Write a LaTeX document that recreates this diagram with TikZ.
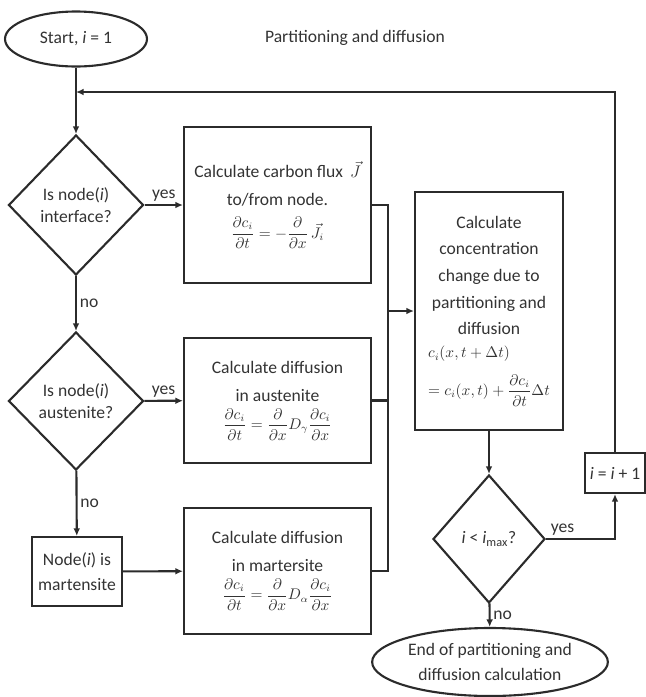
\documentclass[tikz,border=0pt]{standalone}
\usepackage{fontspec}
\setmainfont{Carlito}
\usepackage{amsmath}
\usetikzlibrary{arrows.meta,shapes.geometric}
\definecolor{pdline}{HTML}{2B2B2B}
\definecolor{pdtext}{HTML}{333333}
\tikzstyle{pdbox}=[draw=pdline,line width=1.5pt,text=pdtext,align=center,inner sep=2pt,
  font=\fontsize{12.5}{20}\selectfont]
\tikzstyle{pddec}=[diamond,draw=pdline,line width=1.5pt,text=pdtext,aspect=1,inner sep=0pt,
  align=center,font=\fontsize{12.5}{16}\selectfont]
\tikzstyle{pdterm}=[ellipse,draw=pdline,line width=1.5pt,text=pdtext,inner sep=1pt,
  align=center,font=\fontsize{12.5}{20}\selectfont]
\tikzstyle{pdarrow}=[-{Latex[length=1.9mm,width=1.7mm]},draw=pdline,line width=1.5pt]
\tikzstyle{pdwire}=[draw=pdline,line width=1.5pt]
\tikzstyle{pdlabel}=[text=pdtext,font=\fontsize{12.5}{14}\selectfont,inner sep=2pt]
\newcommand\pdmath{\fontsize{10.5}{13}\selectfont}

\begin{document}
\begin{tikzpicture}
    \useasboundingbox (0,0) rectangle (16.15,-17.425);
    % ---- start and title ----
    \node[pdterm,minimum width=3.55cm,minimum height=1.375cm] (start) at (1.9,-0.975) {Start, \textit{i} = 1};
    \node[pdlabel] (title) at (8.875,-0.95) {Partitioning and diffusion};
    \coordinate (join) at (1.9,-2.3);

    % ---- decisions on the left ----
    \node[pddec,minimum width=3.375cm,minimum height=3.5cm] (d1) at (1.9,-5.125) {Is node(\textit{i})\\interface?};
    \node[pddec,minimum width=3.375cm,minimum height=3.45cm] (d2) at (1.9,-10.025) {Is node(\textit{i})\\austenite?};
    \node[pdbox,minimum width=2.25cm,minimum height=1.725cm,font=\fontsize{12.5}{18}\selectfont] (mart) at (1.925,-14.2875) {Node(\textit{i}) is\\martensite};

    % ---- calculation boxes ----
    \node[pdbox,minimum width=4.675cm,minimum height=3.9cm] (flux) at (6.9375,-5.125)
      {Calculate carbon flux\, $\vec{J}$\\to/from node.\\[3pt]
       {\pdmath$\displaystyle\frac{\partial c_i}{\partial t}=-\frac{\partial}{\partial x}\,\vec{J}_i$}};
    \node[pdbox,minimum width=4.675cm,minimum height=3.125cm] (aus) at (6.9375,-10.0125)
      {Calculate diffusion\\in austenite\\
       {\pdmath$\displaystyle\frac{\partial c_i}{\partial t}=\frac{\partial}{\partial x}D_\gamma\frac{\partial c_i}{\partial x}$}};
    \node[pdbox,minimum width=4.675cm,minimum height=3.15cm] (mar) at (6.9375,-14.275)
      {Calculate diffusion\\in martersite\\
       {\pdmath$\displaystyle\frac{\partial c_i}{\partial t}=\frac{\partial}{\partial x}D_\alpha\frac{\partial c_i}{\partial x}$}};
    \node[pdbox,minimum width=3.7cm,minimum height=5.95cm,font=\fontsize{12.5}{19}\selectfont] (conc) at (12.225,-7.775)
      {Calculate\\concentration\\change due to\\partitioning and\\diffusion\\[6pt]
       {\pdmath\begin{tabular}{@{}l@{}}$c_i(x,t+\Delta t)$\\[8pt]
        $=c_i(x,t)+\dfrac{\partial c_i}{\partial t}\Delta t$\end{tabular}}};

    % ---- loop test and end ----
    \node[pddec,minimum width=2.8cm,minimum height=3.2cm] (d3) at (12.225,-13.475) {\textit{i} < \textit{i}$_{\max}$?};
    \node[pdbox,minimum width=1.5cm,minimum height=1.0cm,inner sep=1pt] (inc) at (15.375,-11.825) {\textit{i} = \textit{i} + 1};
    \node[pdterm,minimum width=5.85cm,minimum height=1.7cm,font=\fontsize{12.5}{18}\selectfont] (end) at (12.25,-16.55)
      {End of partitioning and\\diffusion calculation};

    % ---- collector between calculation boxes ----
    \coordinate (bus1) at (9.7,-5.125);
    \coordinate (bus2) at (9.7,-10.0125);
    \coordinate (bus3) at (9.7,-14.275);
    \coordinate (busin) at (9.7,-7.775);

    % ---- connectors ----
    \draw[pdarrow] (start) -- (d1);
    \draw[pdarrow] (inc.north) |- (join);
    \draw[pdarrow] (d1) -- node[pdlabel,above]{yes} (flux);
    \draw[pdarrow] (d1) -- node[pdlabel,right]{no} (d2);
    \draw[pdarrow] (d2) -- node[pdlabel,above]{yes} (aus);
    \draw[pdarrow] (d2) -- node[pdlabel,right]{no} (mart);
    \draw[pdarrow] (mart) -- (mar);
    \draw[pdwire] (flux.east) -- (bus1) -- (bus3) -- (mar.east);
    \draw[pdwire] (aus.east) -- (bus2);
    \draw[pdarrow] (busin) -- (conc.west);
    \draw[pdarrow] (conc) -- (d3);
    \draw[pdarrow] (d3.east) -| node[pdlabel,above,pos=0.12]{yes} (inc.south);
    \draw[pdarrow] (d3) -- node[pdlabel,right]{no} (end);
\end{tikzpicture}
\end{document}
